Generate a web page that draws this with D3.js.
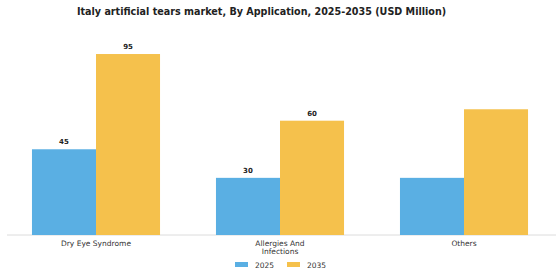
<!DOCTYPE html>
<html>
<head>
<meta charset="utf-8">
<script src="https://cdn.jsdelivr.net/npm/d3@7"></script>
<style>
  html, body { margin: 0; padding: 0; background: #fff; }
  svg { display: block; font-family: 'DejaVu Sans', sans-serif; }
</style>
</head>
<body>
<div id="chart"></div>
<script>
  // Categories, series and labels
  const CATEGORIES = [['Dry Eye Syndrome'], ['Allergies And', 'Infections'], ['Others']];
  const YEARS = ['2025', '2035'];
  const VALUES_2025 = [45, 30, 30];
  const VALUES_2035 = [95, 60, 66];
  const SHOW_LABEL = [true, true, false]; // "Others" bars carry no value label
  const COLORS = ['#5aafe3', '#f5c14c'];

  const W = 560, H = 280;
  const svg = d3.select('#chart').append('svg').attr('width', W).attr('height', H);

  svg.append('text').attr('x', 261.5).attr('y', 15)
    .attr('text-anchor', 'middle').style('font-size', '9.6px').style('font-weight', 'bold')
    .style('fill', '#222')
    .text('Italy artificial tears market, By Application, 2025-2035 (USD Million)');

  const x = d3.scaleBand().domain(d3.range(CATEGORIES.length)).range([4, 556])
    .paddingInner(0.304).paddingOuter(0.152);
  const xs = d3.scaleBand().domain(YEARS).range([0, x.bandwidth()]);
  const y = d3.scaleLinear().domain([0, 100]).range([235, 44.5]);

  // Baseline
  svg.append('line').attr('x1', 7).attr('x2', 556).attr('y1', y(0)).attr('y2', y(0))
    .attr('stroke', '#dcdcdc').attr('stroke-width', 1);

  const series = [VALUES_2025, VALUES_2035];
  CATEGORIES.forEach((c, i) => {
    YEARS.forEach((yr, j) => {
      const v = series[j][i];
      svg.append('rect')
        .attr('x', x(i) + xs(yr)).attr('width', xs.bandwidth())
        .attr('y', y(v)).attr('height', y(0) - y(v))
        .attr('fill', COLORS[j]);
      if (SHOW_LABEL[i]) {
        svg.append('text').attr('x', x(i) + xs(yr) + xs.bandwidth() / 2).attr('y', y(v) - 5)
          .attr('text-anchor', 'middle').style('font-size', '7px').style('font-weight', 'bold')
          .style('fill', '#222').text(v);
      }
    });
    const t = svg.append('text').attr('text-anchor', 'middle').style('font-size', '7.5px').style('fill', '#333');
    c.forEach((line, k) => {
      t.append('tspan').attr('x', x(i) + x.bandwidth() / 2).attr('y', 245.5 + k * 8.5).text(line);
    });
  });

  // Legend
  const legendX = [235, 287];
  YEARS.forEach((yr, j) => {
    svg.append('rect').attr('x', legendX[j]).attr('y', 262).attr('width', 13).attr('height', 5)
      .attr('fill', COLORS[j]);
    svg.append('text').attr('x', legendX[j] + 20).attr('y', 267.5)
      .style('font-size', '7.5px').style('fill', '#333').text(yr);
  });
</script>
</body>
</html>
